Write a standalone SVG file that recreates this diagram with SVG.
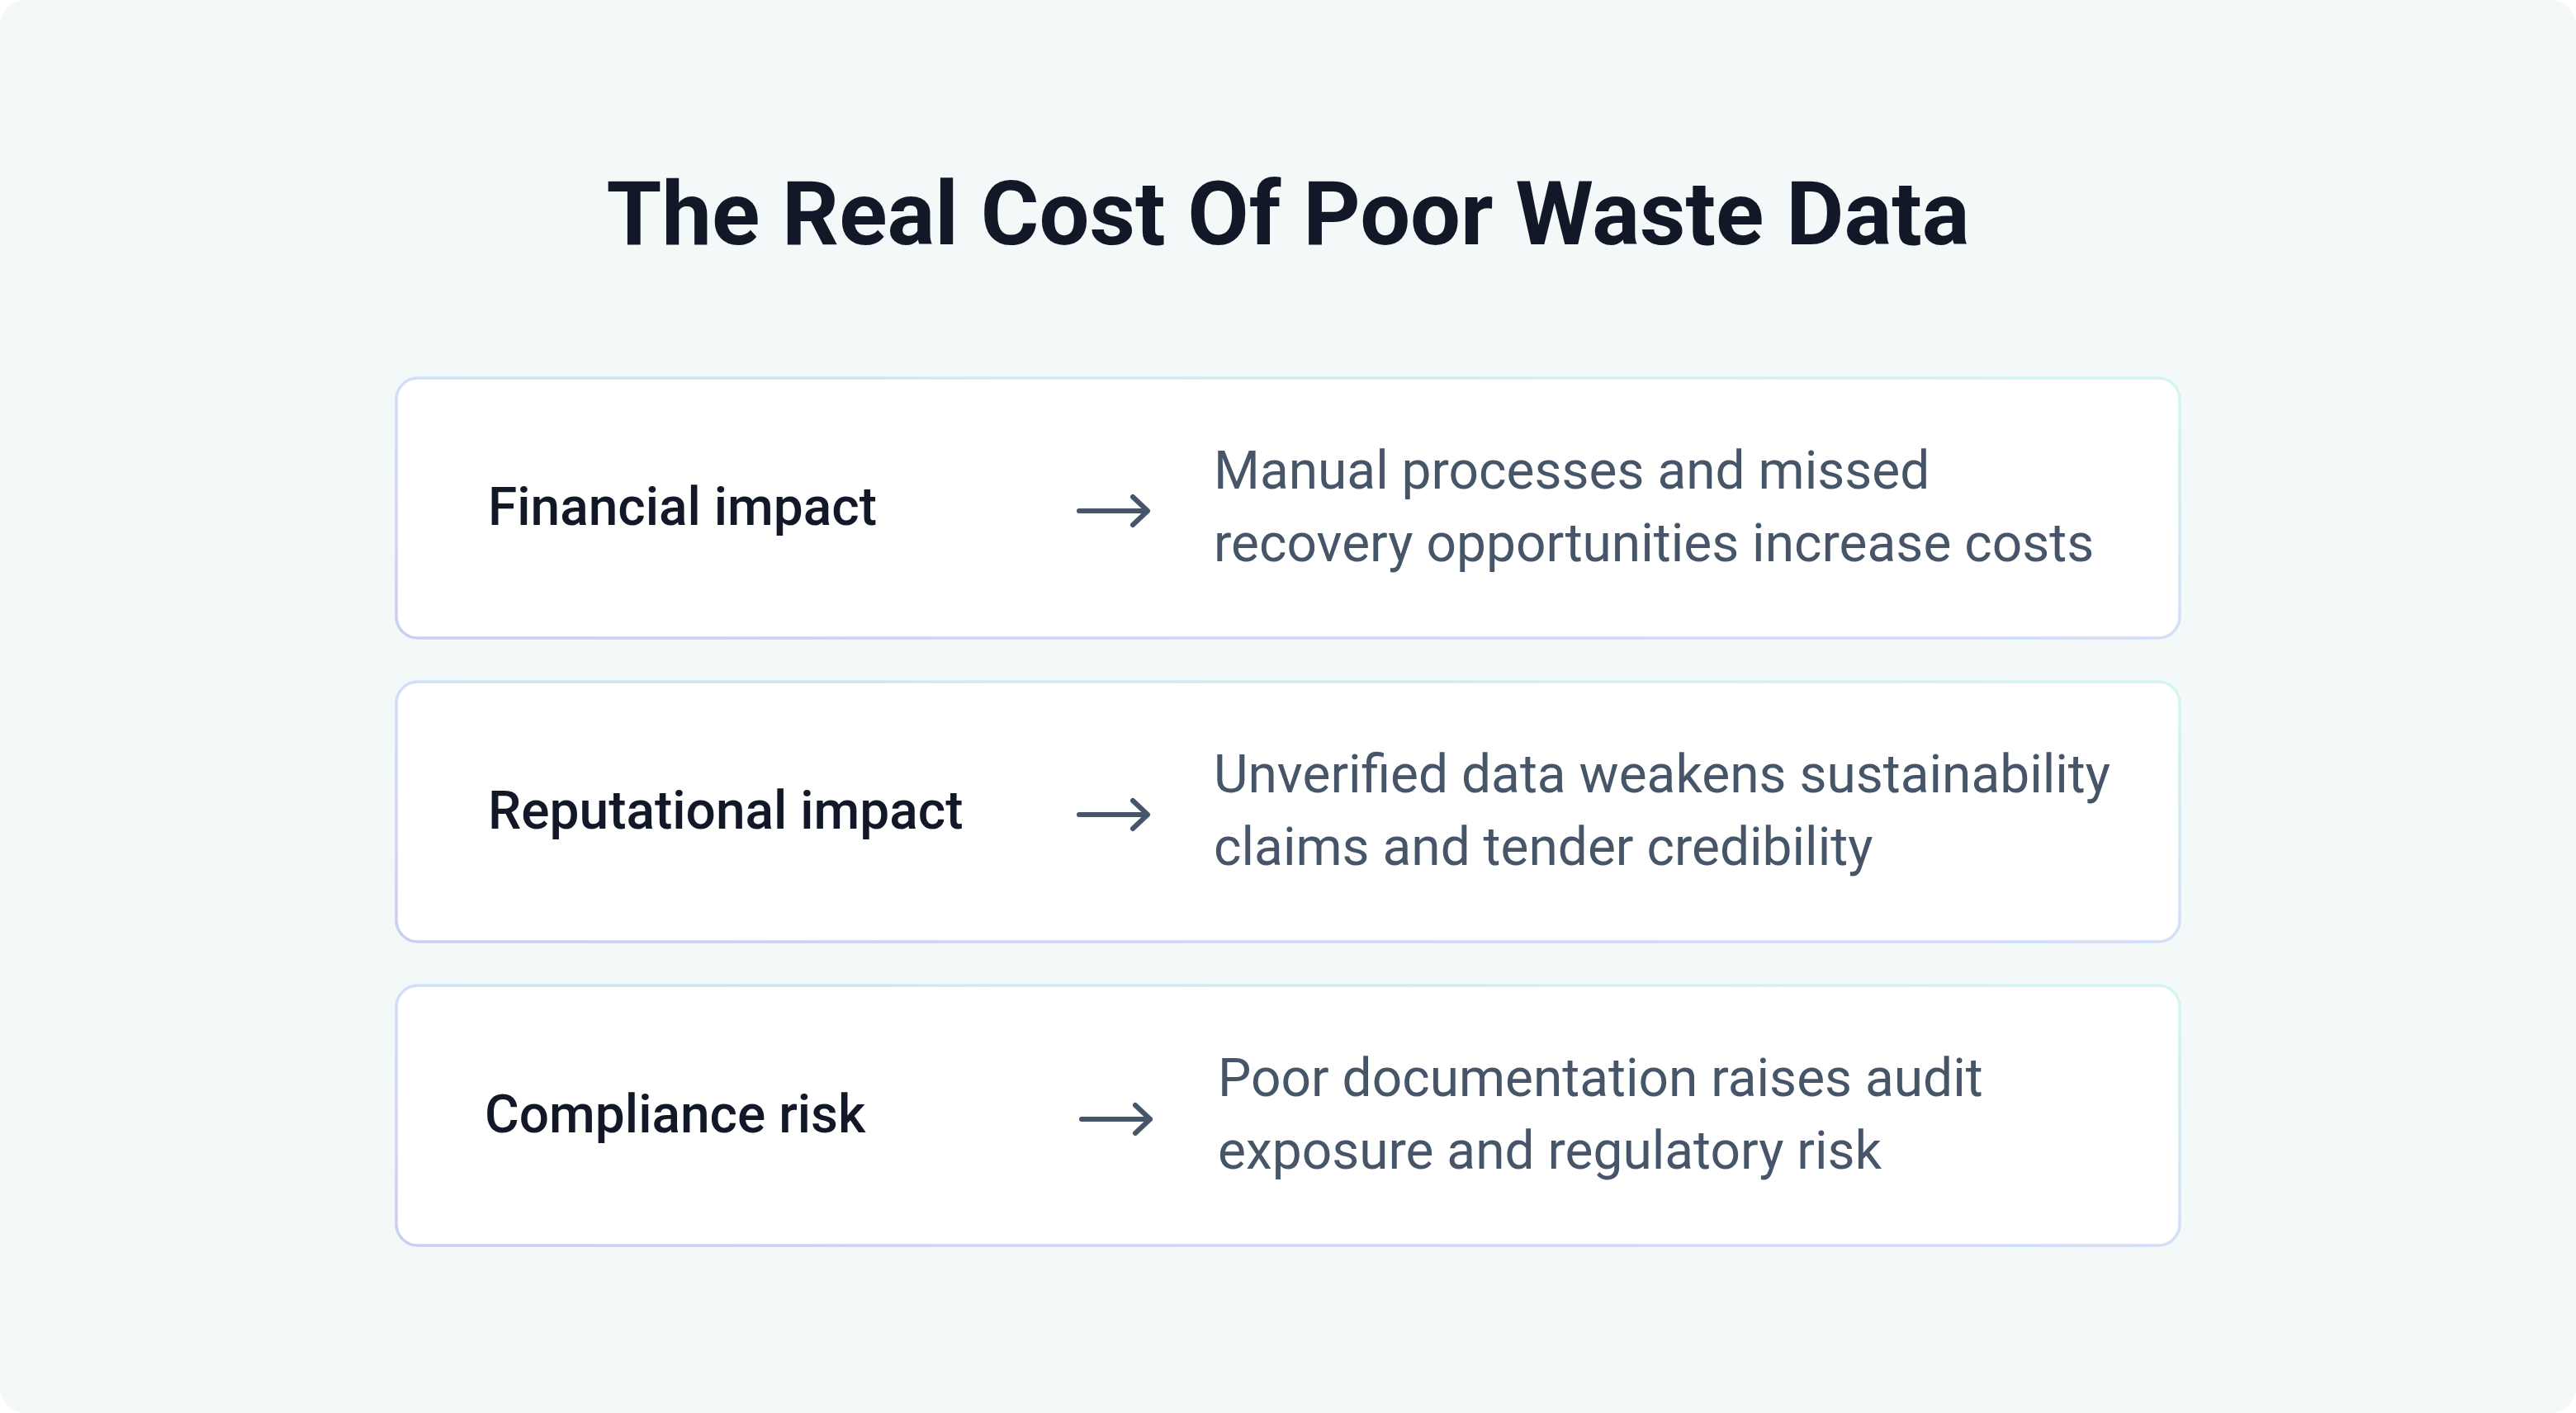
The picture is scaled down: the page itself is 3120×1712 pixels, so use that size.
<svg xmlns="http://www.w3.org/2000/svg" width="3120" height="1712" viewBox="0 0 3120 1712">
<style>
.title{font-family:Roboto,"Liberation Sans",sans-serif;font-weight:700;font-size:108px;fill:#121828}
.label{font-family:Roboto,"Liberation Sans",sans-serif;font-weight:500;font-size:64px;fill:#121828}
.desc{font-family:Roboto,"Liberation Sans",sans-serif;font-weight:400;font-size:64px;fill:#475569}
.card{fill:#ffffff;stroke:url(#cardStroke);stroke-width:3.5}
.arrow{fill:none;stroke:#475569;stroke-width:6;stroke-linecap:round;stroke-linejoin:round}
</style>
<defs>
<linearGradient id="cardStroke" x1="1" y1="0" x2="0" y2="1">
<stop offset="0" stop-color="#D6F5EF"/>
<stop offset="0.5" stop-color="#D2DFF5"/>
<stop offset="1" stop-color="#CBCEEE"/>
</linearGradient>
</defs>
<rect x="0" y="0" width="3120" height="1712" fill="#ffffff"/>
<rect x="0" y="0" width="3120" height="1712" rx="32" fill="#F3F8F8"/>
<text class="title" x="1560" y="296" text-anchor="middle">The Real Cost Of Poor Waste Data</text>
<g id="card-financial">
<rect class="card" x="480" y="458" width="2160" height="315" rx="26"/>
<text class="label" x="591" y="636">Financial impact</text>
<text class="desc" x="1470" y="592">Manual processes and missed</text>
<text class="desc" x="1470" y="680">recovery opportunities increase costs</text>
</g>
<g id="card-reputational">
<rect class="card" x="480" y="826" width="2160" height="315" rx="26"/>
<text class="label" x="591" y="1004">Reputational impact</text>
<text class="desc" x="1470" y="960">Unverified data weakens sustainability</text>
<text class="desc" x="1470" y="1048">claims and tender credibility</text>
</g>
<g id="card-compliance">
<rect class="card" x="480" y="1194" width="2160" height="315" rx="26"/>
<text class="label" x="587" y="1372">Compliance risk</text>
<text class="desc" x="1475" y="1328">Poor documentation raises audit</text>
<text class="desc" x="1475" y="1416">exposure and regulatory risk</text>
</g>
<g id="connectors">
<path class="arrow" d="M1307 619 H1390 M1372 602 L1390 619 L1372 636"/>
<path class="arrow" d="M1307 987 H1390 M1372 970 L1390 987 L1372 1004"/>
<path class="arrow" d="M1310 1356 H1393 M1375 1339 L1393 1356 L1375 1373"/>
</g>
</svg>
